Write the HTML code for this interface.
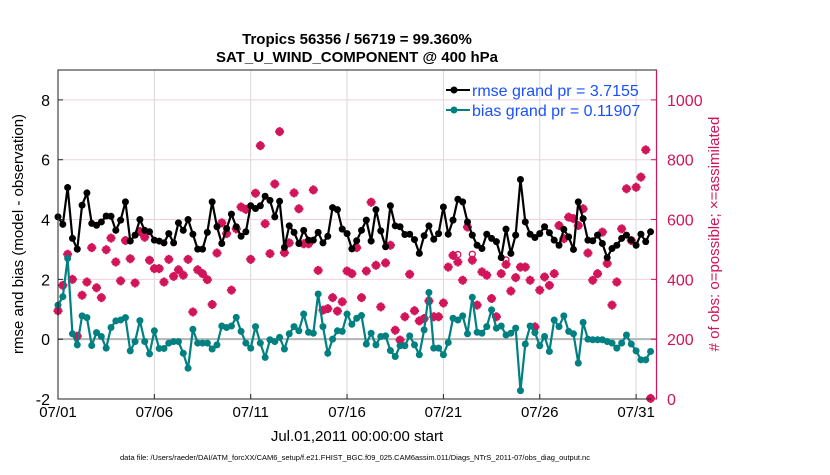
<!DOCTYPE html>
<html><head><meta charset="utf-8"><style>
body{margin:0;background:#fff;}
svg text{font-family:"Liberation Sans",Arial,sans-serif;}
</style></head><body>
<svg id="chart" width="830" height="470" viewBox="0 0 830 470" xmlns="http://www.w3.org/2000/svg">
<rect width="830" height="470" fill="#fff"/>
<text x="357" y="44" text-anchor="middle" font-size="15" font-weight="bold">Tropics 56356 / 56719 = 99.360%</text>
<text x="357" y="62" text-anchor="middle" font-size="15" font-weight="bold">SAT_U_WIND_COMPONENT @ 400 hPa</text>
<g id="grid"></g>
<line id="zeroline" x1="58" x2="656" stroke="#b4b4b4" stroke-width="2"/>
<g id="marks"></g>
<rect x="58" y="70" width="598.5" height="329" fill="none" stroke="#222" stroke-width="1"/>
<line x1="656.5" y1="70" x2="656.5" y2="399" stroke="#d2145a" stroke-width="1.2"/>
<g id="axes"></g>
<text transform="translate(23,234) rotate(-90)" text-anchor="middle" font-size="15">rmse and bias (model - observation)</text>
<text transform="translate(719,234) rotate(-90)" text-anchor="middle" font-size="15" fill="#d2145a"># of obs: o=possible; ×=assimilated</text>
<text x="357" y="441" text-anchor="middle" font-size="15">Jul.01,2011 00:00:00 start</text>
<text x="355" y="460" text-anchor="middle" font-size="7.5">data file: /Users/raeder/DAI/ATM_forcXX/CAM6_setup/f.e21.FHIST_BGC.f09_025.CAM6assim.011/Diags_NTrS_2011-07/obs_diag_output.nc</text>
<g>
<line x1="446" y1="90" x2="470" y2="90" stroke="#000" stroke-width="2"/><circle cx="454" cy="90" r="3.5" fill="#000"/>
<text x="472" y="96" font-size="16" fill="#1a4fff">rmse grand pr = 3.7155</text>
<line x1="446" y1="110" x2="470" y2="110" stroke="#008080" stroke-width="2"/><circle cx="454" cy="110" r="3.5" fill="#008080"/>
<text x="472" y="116" font-size="16" fill="#1a4fff">bias grand pr = 0.11907</text>
</g>
</svg>
<script>
const rmse=[4.09,3.84,5.07,3.37,3.01,4.48,4.89,3.87,3.81,3.92,4.12,4.11,3.64,3.98,4.59,3.28,3.48,4.0,3.64,3.59,3.31,3.28,3.22,3.53,3.22,3.89,3.64,4.0,3.51,3.01,3.01,3.57,4.59,3.76,3.2,3.7,4.18,3.76,3.44,3.59,4.46,4.37,
4.46,4.78,4.64,4.09,4.61,3.07,3.79,3.57,3.2,3.64,3.31,3.31,3.57,3.22,3.44,4.4,4.33,3.68,3.53,3.02,3.29,3.64,3.98,3.28,4.33,3.62,3.09,4.46,3.79,3.76,3.5,3.51,3.33,2.87,3.46,3.79,3.34,3.53,4.42,3.51,3.98,4.68,
4.59,3.92,3.48,3.14,3.03,3.51,3.37,3.26,2.73,3.68,2.87,3.48,5.34,3.92,3.51,3.4,3.53,3.76,3.56,3.31,3.14,3.67,3.42,3.0,4.59,4.03,3.31,3.29,3.48,3.2,2.73,3.03,3.14,3.37,3.48,3.31,3.14,3.51,3.26,3.59];
const bias=[1.14,1.42,2.7,0.18,-0.19,0.78,0.72,-0.21,0.22,0.09,-0.3,0.39,0.61,0.64,0.72,-0.39,-0.08,0.62,-0.08,-0.49,0.28,-0.31,-0.31,-0.13,-0.08,-0.08,-0.47,-0.97,0.33,-0.13,-0.13,-0.13,-0.33,-0.19,0.44,0.39,0.44,0.73,0.26,-0.13,-0.3,0.42,
-0.13,-0.61,-0.02,-0.08,0.06,-0.33,0.18,0.42,0.28,0.84,0.23,0.2,1.51,0.42,-0.47,0,0.28,0.26,0.84,0.5,0.7,0.79,-0.16,0.2,-0.19,0.09,0.11,-0.38,-0.58,-0.22,-0.22,0.11,-0.19,-0.52,0.31,1.56,-0.3,-0.3,-0.52,-0.11,0.7,0.64,
0.78,0.18,1.4,0.23,0.2,0.42,0.98,0.37,0.44,0.14,0.2,0.37,-1.72,-0.16,0.44,0.22,-0.22,0.09,-0.41,0.64,0.42,0.78,0.26,0.18,-0.8,0.56,0,-0.02,-0.02,-0.02,-0.08,-0.13,-0.3,-0.13,0.14,-0.16,-0.39,-0.69,-0.69,-0.41];
const assimilated=[295,380,484,400,210,347,391,506,372,339,499,538,458,395,530,469,388,560,541,464,436,436,391,467,410,432,414,467,291,432,419,399,316,488,589,553,364,569,642,634,467,688,847,
586,486,719,894,489,522,689,636,519,519,699,430,297,302,339,294,325,428,419,506,339,428,658,447,308,455,514,230,197,275,417,295,261,269,328,275,275,321,441,480,
458,397,575,464,314,425,414,336,275,419,450,361,406,441,441,397,241,364,408,380,419,580,536,608,603,580,636,488,397,419,558,453,314,391,569,703,530,708,742,833,2];
const possible=assimilated.map((v,i)=>i===83?v+25:(i===86?v+20:(i===93?v+15:v)));
const xTickDays=[0,5,10,15,20,25,30];
const xTickLabels=["07/01","07/06","07/11","07/16","07/21","07/26","07/31"];
const yLeftTicks=[-2,0,2,4,6,8];
const yRightTicks=[0,200,400,600,800,1000];
const stepDays=0.25;

const X0=58,PXD=19.27,YT=70,YB=399;
const xs=d=>X0+d*PXD;
const yl=v=>YB-(v+2)/11*(YB-YT);
const yr=v=>YB-v/1100*(YB-YT);
const NS="http://www.w3.org/2000/svg";
const mk=(t,a,p)=>{const e=document.createElementNS(NS,t);for(const k in a)e.setAttribute(k,a[k]);p.appendChild(e);return e;};
const grid=document.getElementById('grid'),marks=document.getElementById('marks'),axes=document.getElementById('axes');
document.getElementById('zeroline').setAttribute('y1',yl(0));document.getElementById('zeroline').setAttribute('y2',yl(0));
xTickDays.forEach((d,i)=>{
 const g=mk('line',{x1:xs(d),x2:xs(d),y1:YT,y2:YB,stroke:'#d8d8d8','stroke-width':1},grid);
 
 
 mk('line',{x1:xs(d),x2:xs(d),y1:YB,y2:YB-5,stroke:'#222'},axes);
 const t=mk('text',{x:xs(d),y:417,'text-anchor':'middle','font-size':15},axes);t.textContent=xTickLabels[i];
 
 
});
yRightTicks.forEach(v=>{
 if(v>0&&v<1100){const g=mk('line',{x1:X0,x2:656,y1:yr(v),y2:yr(v),stroke:'#f0d0dc','stroke-width':1},grid);
 
 }
 mk('line',{x1:651,x2:656.5,y1:yr(v),y2:yr(v),stroke:'#d2145a'},axes);
 const t=mk('text',{x:667,y:yr(v)+6,'font-size':16,fill:'#d2145a'},axes);t.textContent=v;
 
 
});
yLeftTicks.forEach(v=>{
 mk('line',{x1:X0,x2:X0+5,y1:yl(v),y2:yl(v),stroke:'#222'},axes);
 const t=mk('text',{x:50,y:yl(v)+6,'text-anchor':'end','font-size':16},axes);t.textContent=v;
 
 
});
// obs markers
possible.forEach((v,i)=>{
 const c=mk('circle',{cx:xs(i*stepDays),cy:yr(v),r:3,fill:'none',stroke:'#d2145a','stroke-width':1.3},marks);
 
 
});
assimilated.forEach((v,i)=>{
 const x=xs(i*stepDays),y=yr(v);
 const p=mk('path',{d:`M${x-4.5},${y}H${x+4.5}M${x},${y-4.5}V${y+4.5}M${x-3},${y-3}L${x+3},${y+3}M${x-3},${y+3}L${x+3},${y-3}`,stroke:'#d2145a','stroke-width':2.6,fill:'none'},marks);
 
 
});
function series(arr,color,name){
 const pts=arr.map((v,i)=>xs(i*stepDays)+','+yl(v)).join(' ');
 const l=mk('polyline',{points:pts,fill:'none',stroke:color,'stroke-width':2.2},marks);
 
 
 arr.forEach((v,i)=>{
  const c=mk('circle',{cx:xs(i*stepDays),cy:yl(v),r:3.5,fill:color},marks);
  
  
 });
}
series(bias,'#008080','bias');
series(rmse,'#000','rmse');
</script>
</body></html>
